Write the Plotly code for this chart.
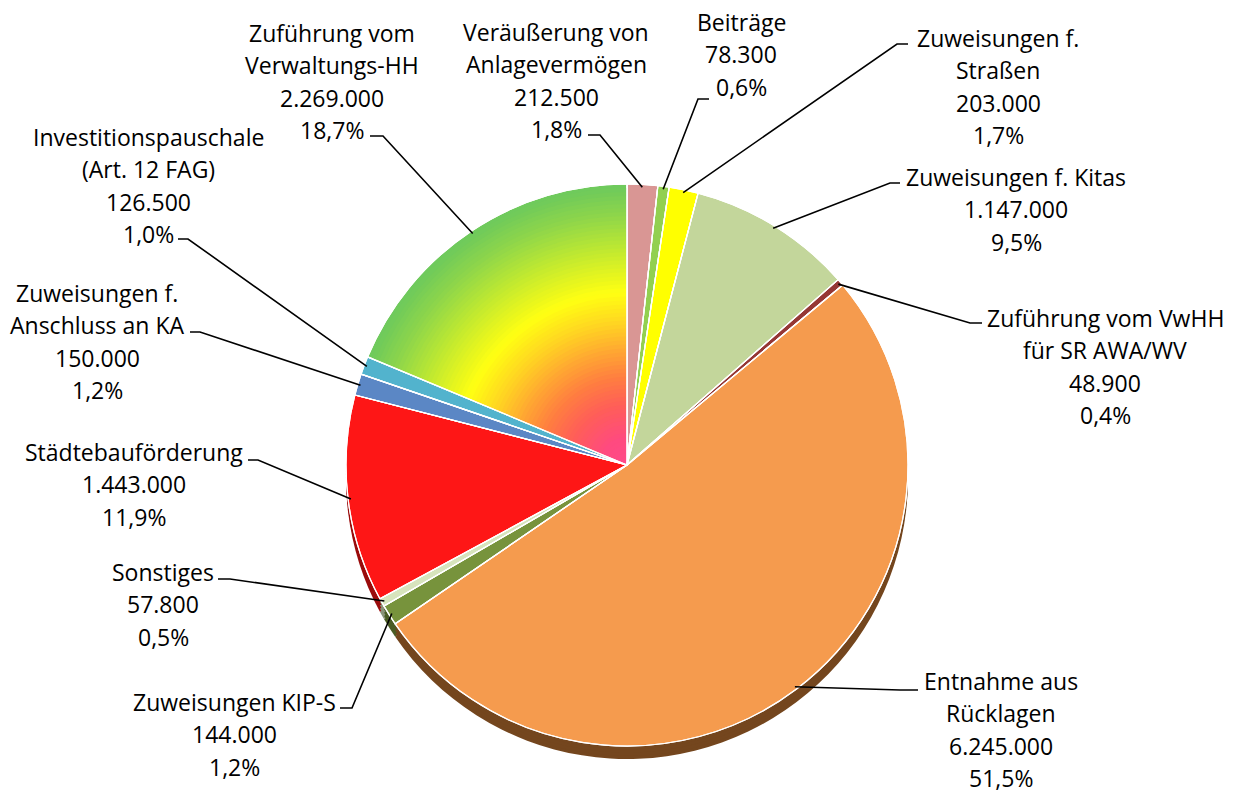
import math
import plotly.graph_objects as go

# ---------------- data ----------------
categories = [
    "Veräußerung von\nAnlagevermögen",
    "Beiträge",
    "Zuweisungen f.\nStraßen",
    "Zuweisungen f. Kitas",
    "Zuführung vom VwHH\nfür SR AWA/WV",
    "Entnahme aus\nRücklagen",
    "Zuweisungen KIP-S",
    "Sonstiges",
    "Städtebauförderung",
    "Zuweisungen f.\nAnschluss an KA",
    "Investitionspauschale\n(Art. 12 FAG)",
    "Zuführung vom\nVerwaltungs-HH",
]
values = [212500, 78300, 203000, 1147000, 48900, 6245000,
          144000, 57800, 1443000, 150000, 126500, 2269000]

# ---------------- styles ----------------
colors = ["#D99694", "#92D050", "#FFFF00", "#C3D69B", "#953735", "#F59B4E",
          "#77933C", "#D7E4BD", "#FE1616", "#5B87C5", "#52B3CD", "#6FCA5C"]
rim_colors = ["#8a5755", "#5a8030", "#a0a000", "#7c8a5e", "#5a1f1e", "#74461e",
              "#4a5c24", "#8a947a", "#9a0c0c", "#37557c", "#2f6f80", "#3f7a33"]
GRAD_IDX = 11
grad_stops = [(1.00, "#6CC95C"), (0.90, "#8DD54B"), (0.80, "#B5E536"),
              (0.70, "#DFF322"), (0.62, "#FFFF12"), (0.52, "#FFD821"),
              (0.42, "#FFAA31"), (0.32, "#FF7E40"), (0.22, "#FF5E58"),
              (0.10, "#FF4A80"), (0.00, "#FF4A8A")]

W, H = 1239, 796
CX, CY, R = 627, 465, 281
DEPTH = 13
FONT = dict(family="Open Sans", size=23, color="#000000")
LINE_PITCH = 32.3

# label placement (pixels): x centre, y of first line, leader start, elbow x
label_cx = [556, 741, 998, 1016, 1105, 1001, 234, 163, 134, 97, 148, 332]
label_top = [32, 22, 38, 177, 318, 681, 702, 572, 452, 293, 137, 33]
leader_start = [(588, 135), (709, 99), (908, 44), (900, 183), (982, 323),
                (918, 690), (340, 708), (218, 579), (248, 460), (190, 332),
                (178, 239), (370, 136)]
leader_elbow_x = [600, 698, 897, 890, 970, 900, 352, 230, 258, 200, 188, 383]


def px(x):
    return x / W


def py(y):
    return 1 - y / H


def dom(cx, cy, r):
    return dict(x=[(cx - r) / W, (cx + r) / W], y=[1 - (cy + r) / H, 1 - (cy - r) / H])


def hex2rgb(h):
    h = h.lstrip("#")
    return tuple(int(h[i:i + 2], 16) for i in (0, 2, 4))


def grad_color(f):
    for (r1, c1), (r2, c2) in zip(grad_stops[:-1], grad_stops[1:]):
        if r2 <= f <= r1:
            t = (r1 - f) / (r1 - r2) if r1 != r2 else 0
            a, b = hex2rgb(c1), hex2rgb(c2)
            return "rgb(%d,%d,%d)" % tuple(round(a[i] + (b[i] - a[i]) * t) for i in range(3))
    return grad_stops[-1][1]


common = dict(labels=categories, values=values, sort=False, direction="clockwise",
              rotation=0, textinfo="none", hoverinfo="skip", showlegend=False)

fig = go.Figure()

# 3D rim (stack of shifted discs)
for k in range(4, 0, -1):
    fig.add_trace(go.Pie(**common, domain=dom(CX, CY + DEPTH * k / 4, R),
                         marker=dict(colors=rim_colors, line=dict(width=0))))

# main face
fig.add_trace(go.Pie(**common, domain=dom(CX, CY, R),
                     marker=dict(colors=colors, line=dict(color="white", width=1.2))))

# radial gradient for the large green slice
transparent = "rgba(0,0,0,0)"
N = 70
for k in range(1, N):
    f = 1 - k / N
    cl = [transparent] * len(values)
    cl[GRAD_IDX] = grad_color(f)
    fig.add_trace(go.Pie(**common, domain=dom(CX, CY, R * f),
                         marker=dict(colors=cl, line=dict(width=0))))

# borders on top
fig.add_trace(go.Pie(**common, domain=dom(CX, CY, R),
                     marker=dict(colors=[transparent] * len(values),
                                 line=dict(color="white", width=1.2))))

# labels and leader lines
total = sum(values)
cum = 0
shapes = []
annotations = []
for i, v in enumerate(values):
    mid = (cum + v / 2) / total * 2 * math.pi
    cum += v
    ax = CX + R * 0.99 * math.sin(mid)
    ay = CY - R * 0.99 * math.cos(mid)
    sx, sy = leader_start[i]
    ex = leader_elbow_x[i]
    shapes.append(dict(type="path", xref="paper", yref="paper",
                       path=f"M {px(sx)},{py(sy)} L {px(ex)},{py(sy)} L {px(ax)},{py(ay)}",
                       line=dict(color="black", width=1.6)))
    lines = categories[i].split("\n") + [
        f"{v:,}".replace(",", "."),
        f"{100 * v / total:.1f}".replace(".", ",") + "%",
    ]
    for j, t in enumerate(lines):
        annotations.append(dict(xref="paper", yref="paper", x=px(label_cx[i]),
                                y=py(label_top[i] + j * LINE_PITCH), text=t,
                                showarrow=False, xanchor="center", yanchor="middle",
                                font=FONT))

fig.update_layout(width=W, height=H, margin=dict(l=0, r=0, t=0, b=0),
                  paper_bgcolor="white", plot_bgcolor="white",
                  shapes=shapes, annotations=annotations)

fig.write_html("out.html", config={"displayModeBar": False},
               post_script="document.body.style.margin='0';")
